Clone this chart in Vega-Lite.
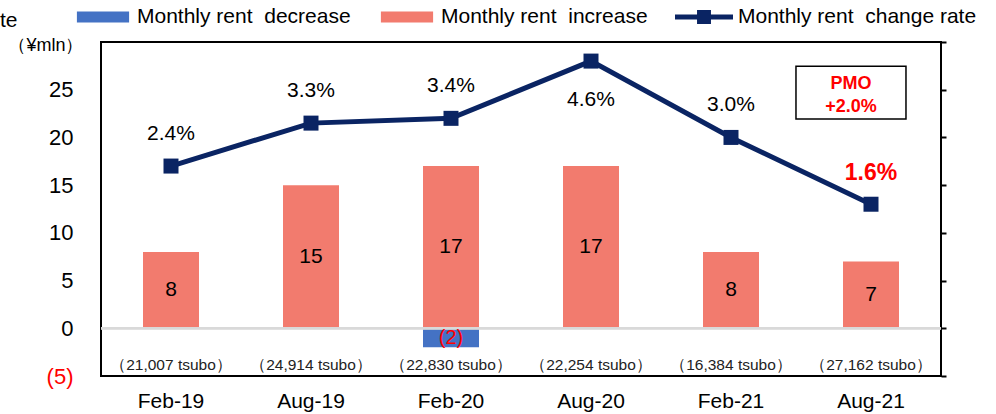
{
  "$schema": "https://vega.github.io/schema/vega-lite/v6.json",
  "width": 840,
  "height": 334,
  "autosize": {"type": "none"},
  "padding": {"left": 101, "top": 42, "right": 55, "bottom": 38},
  "config": {
    "view": {"stroke": "black", "strokeWidth": 2},
    "font": "Liberation Sans",
    "axis": {"grid": false}
  },
  "data": {
    "values": [
      {"month": "Feb-19", "inc": 8, "dec": null, "rate": 2.4, "tsubo": "（21,007 tsubo）"},
      {"month": "Aug-19", "inc": 15, "dec": null, "rate": 3.3, "tsubo": "（24,914 tsubo）"},
      {"month": "Feb-20", "inc": 17, "dec": -2, "rate": 3.4, "tsubo": "（22,830 tsubo）"},
      {"month": "Aug-20", "inc": 17, "dec": null, "rate": 4.6, "tsubo": "（22,254 tsubo）"},
      {"month": "Feb-21", "inc": 8, "dec": null, "rate": 3.0, "tsubo": "（16,384 tsubo）"},
      {"month": "Aug-21", "inc": 7, "dec": null, "rate": 1.6, "tsubo": "（27,162 tsubo）"}
    ]
  },
  "transform": [
    {"calculate": "datum.inc / 2", "as": "incMid"},
    {"calculate": "datum.dec == null ? null : datum.dec / 2", "as": "decMid"},
    {"calculate": "datum.dec == null ? '' : '(' + abs(datum.dec) + ')'", "as": "decLabel"},
    {"calculate": "format(datum.rate, '.1f') + '%'", "as": "rateLabel"}
  ],
  "layer": [
    {
      "layer": [
        {
          "mark": {"type": "bar"},
          "encoding": {
            "x": {
              "field": "month", "type": "nominal", "sort": null,
              "scale": {"paddingInner": 0.6, "paddingOuter": 0.3},
              "axis": {"orient": "bottom", "domain": false, "ticks": false, "labelAngle": 0, "labelFontSize": 21, "labelColor": "black", "labelPadding": 14, "title": null}
            },
            "y": {
              "field": "inc", "type": "quantitative",
              "scale": {"domain": [-5, 30], "nice": false, "zero": false},
              "axis": {
                "orient": "left", "values": [-5, 0, 5, 10, 15, 20, 25], "domain": false, "ticks": false, "grid": false,
                "labelFontSize": 22,
                "labelColor": {"condition": {"test": "datum.value < 0", "value": "#FF0000"}, "value": "black"},
                "labelExpr": "datum.value < 0 ? '(' + abs(datum.value) + ')' : datum.label",
                "labelPadding": 28,
                "title": "（¥mln）", "titleAngle": 0, "titleX": -18, "titleY": 3, "titleAlign": "right", "titleBaseline": "middle",
                "titleFontSize": 18, "titleFontWeight": "normal", "titleColor": "black"
              }
            },
            "color": {
              "datum": "increase", "type": "nominal",
              "scale": {"domain": ["decrease", "increase", "change rate"], "range": ["#4472C4", "#F27B6E", "#0A2463"]},
              "legend": {
                "orient": "none", "legendX": -101, "legendY": -54, "direction": "horizontal",
                "title": "te", "titleOrient": "left", "titleFontSize": 21, "titleFontWeight": "normal", "titleColor": "black", "titlePadding": 56,
                "titleBaseline": "line-top", "titleLineHeight": 26,
                "labelFontSize": 21, "labelColor": "black", "labelOffset": 5, "columnPadding": 27, "symbolSize": 3364, "padding": 0, "labelLimit": 400,
                "labelExpr": "'Monthly rent\u00a0 ' + datum.label",
                "encode": {
                  "symbols": {
                    "update": {
                      "shape": {"signal": "datum.value === 'change rate' ? 'M-1,-0.086H1V0.086H-1Z M-0.24,-0.24H0.24V0.24H-0.24Z' : 'M-0.9,-0.19H0.9V0.19H-0.9Z'"},
                      "fill": {"scale": "color", "field": "value"},
                      "stroke": {"value": "transparent"},
                      "strokeWidth": {"value": 0},
                      "opacity": {"value": 1}
                    }
                  }
                }
              }
            }
          }
        },
        {
          "mark": {"type": "bar"},
          "encoding": {
            "x": {"field": "month", "type": "nominal", "sort": null},
            "y": {"field": "dec", "type": "quantitative"},
            "color": {"datum": "decrease", "type": "nominal"}
          }
        },
        {
          "mark": {"type": "rule", "color": "#D9D9D9", "strokeWidth": 2},
          "encoding": {"y": {"datum": 0, "type": "quantitative"}}
        },
        {
          "mark": {"type": "text", "fontSize": 21, "color": "black", "baseline": "middle"},
          "encoding": {
            "x": {"field": "month", "type": "nominal", "sort": null},
            "y": {"field": "incMid", "type": "quantitative"},
            "text": {"field": "inc", "type": "quantitative"}
          }
        },
        {
          "mark": {"type": "text", "fontSize": 20, "color": "#FF0000", "baseline": "middle"},
          "encoding": {
            "x": {"field": "month", "type": "nominal", "sort": null},
            "y": {"field": "decMid", "type": "quantitative"},
            "text": {"field": "decLabel", "type": "nominal"}
          }
        },
        {
          "mark": {"type": "text", "fontSize": 15.5, "color": "#222222", "baseline": "middle"},
          "encoding": {
            "x": {"field": "month", "type": "nominal", "sort": null},
            "y": {"datum": -3.85, "type": "quantitative"},
            "text": {"field": "tsubo", "type": "nominal"}
          }
        },
        {
          "data": {"values": [{"note": "PMO"}]},
          "mark": {"type": "point", "shape": "M-1.364,-0.48H0.636V0.48H-1.364Z", "size": 12100, "filled": true, "fill": "white", "stroke": "black", "strokeWidth": 1.5, "opacity": 1},
          "encoding": {
            "x": {"datum": "Aug-21", "type": "nominal"},
            "y": {"datum": 24.7, "type": "quantitative"}
          }
        },
        {
          "data": {"values": [{"note": "PMO", "pmo": "+2.0%"}]},
          "mark": {"type": "text", "fontSize": 18, "fontWeight": "bold", "color": "#FF0000", "baseline": "middle", "lineHeight": 23, "dx": -20, "dy": -9},
          "encoding": {
            "x": {"datum": "Aug-21", "type": "nominal"},
            "y": {"datum": 24.7, "type": "quantitative"},
            "text": {"value": ["PMO", "+2.0%"]}
          }
        }
      ]
    },
    {
      "layer": [
        {
          "mark": {"type": "line", "strokeWidth": 5},
          "encoding": {
            "x": {"field": "month", "type": "nominal", "sort": null},
            "y": {
              "field": "rate", "type": "quantitative",
              "scale": {"domain": [-2, 5], "nice": false, "zero": false},
              "axis": {"orient": "right", "values": [-2, -1, 0, 1, 2, 3, 4, 5], "labels": false, "domain": false, "ticks": true, "tickSize": 5, "tickWidth": 2, "tickColor": "black", "grid": false, "title": null}
            },
            "color": {"datum": "change rate", "type": "nominal"}
          }
        },
        {
          "mark": {"type": "point", "shape": "square", "filled": true, "size": 225, "opacity": 1},
          "encoding": {
            "x": {"field": "month", "type": "nominal", "sort": null},
            "y": {"field": "rate", "type": "quantitative"},
            "color": {"datum": "change rate", "type": "nominal"}
          }
        },
        {
          "transform": [{"filter": "datum.month !== 'Aug-20' && datum.month !== 'Aug-21'"}],
          "mark": {"type": "text", "fontSize": 21, "color": "black", "baseline": "middle", "dy": -32},
          "encoding": {
            "x": {"field": "month", "type": "nominal", "sort": null},
            "y": {"field": "rate", "type": "quantitative"},
            "text": {"field": "rateLabel", "type": "nominal"}
          }
        },
        {
          "transform": [{"filter": "datum.month === 'Aug-20'"}],
          "mark": {"type": "text", "fontSize": 21, "color": "black", "baseline": "middle", "dy": 39},
          "encoding": {
            "x": {"field": "month", "type": "nominal", "sort": null},
            "y": {"field": "rate", "type": "quantitative"},
            "text": {"field": "rateLabel", "type": "nominal"}
          }
        },
        {
          "transform": [{"filter": "datum.month === 'Aug-21'"}],
          "mark": {"type": "text", "fontSize": 23, "fontWeight": "bold", "color": "#FF0000", "baseline": "middle", "dy": -31},
          "encoding": {
            "x": {"field": "month", "type": "nominal", "sort": null},
            "y": {"field": "rate", "type": "quantitative"},
            "text": {"field": "rateLabel", "type": "nominal"}
          }
        }
      ]
    }
  ],
  "resolve": {"scale": {"y": "independent"}}
}
